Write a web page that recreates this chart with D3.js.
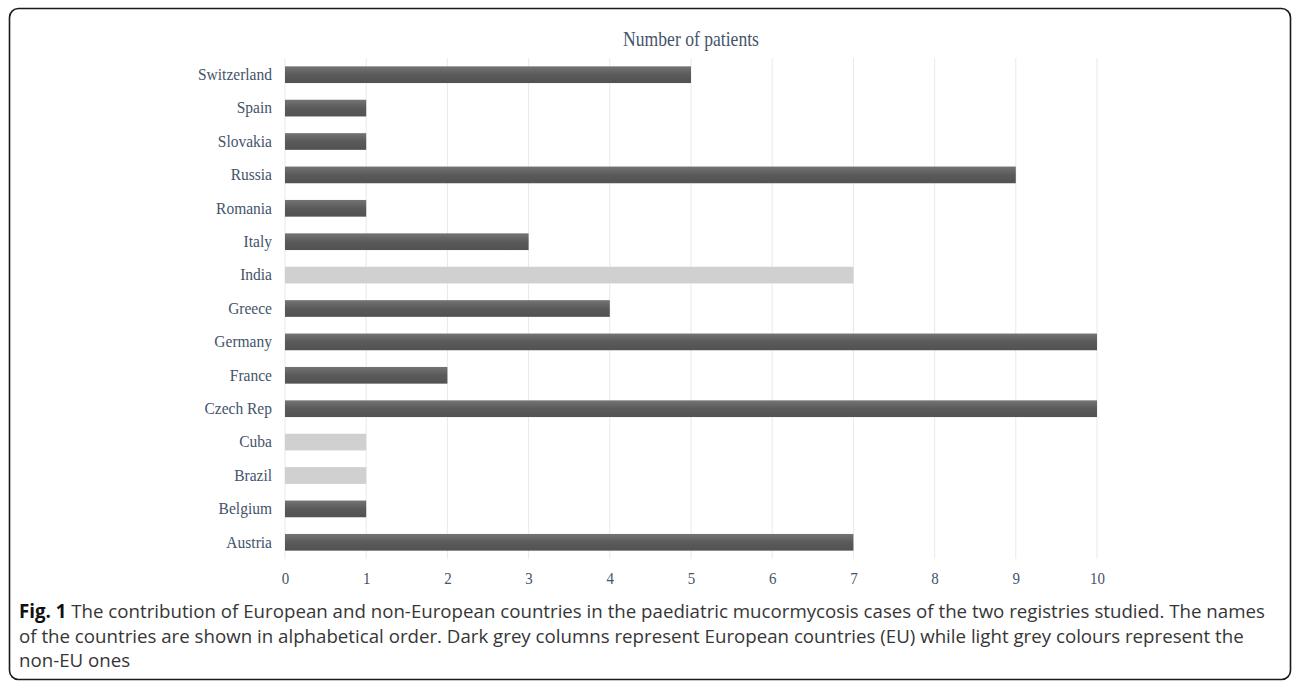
<!DOCTYPE html>
<html>
<head>
<meta charset="utf-8">
<script src="https://cdn.jsdelivr.net/npm/d3@7"></script>
<style>
  html, body { margin: 0; padding: 0; background: #fff; }
  svg { display: block; }
</style>
</head>
<body>
<script>
// data (alphabetical, drawn bottom-up)
const countries = ['Austria', 'Belgium', 'Brazil', 'Cuba', 'Czech Rep', 'France', 'Germany',
  'Greece', 'India', 'Italy', 'Romania', 'Russia', 'Slovakia', 'Spain', 'Switzerland'];
const patients = [7, 1, 1, 1, 10, 2, 10, 4, 7, 3, 1, 9, 1, 1, 5];
const region = ['EU', 'EU', 'non-EU', 'non-EU', 'EU', 'EU', 'EU', 'EU', 'non-EU', 'EU', 'EU', 'EU', 'EU', 'EU', 'EU'];
const xTicks = [0, 1, 2, 3, 4, 5, 6, 7, 8, 9, 10];
const captionLines = [
  ['Fig. 1', ' The contribution of European and non-European countries in the paediatric mucormycosis cases of the two registries studied. The names'],
  ['', 'of the countries are shown in alphabetical order. Dark grey columns represent European countries (EU) while light grey colours represent the'],
  ['', 'non-EU ones']
];

const width = 1292;
const height = 683;
const plot = { left: 285, right: 1097, top: 58, bottom: 559 };
const serif = '"Liberation Serif", "Times New Roman", serif';

const svg = d3.select('body').append('svg')
  .attr('width', width)
  .attr('height', height);

// bar shading
const grad = svg.append('defs').append('linearGradient')
  .attr('id', 'darkbar')
  .attr('x1', 0).attr('y1', 0).attr('x2', 0).attr('y2', 1);
grad.append('stop').attr('offset', '0%').attr('stop-color', '#747474');
grad.append('stop').attr('offset', '50%').attr('stop-color', '#5a5a5a');
grad.append('stop').attr('offset', '100%').attr('stop-color', '#525252');

// frame
svg.append('rect')
  .attr('x', 9.5).attr('y', 8.5)
  .attr('width', 1281).attr('height', 671)
  .attr('rx', 9)
  .attr('fill', 'none')
  .attr('stroke', '#1a1a1a')
  .attr('stroke-width', 1.6);

const x = d3.scaleLinear()
  .domain([0, 10])
  .range([plot.left, plot.right]);

const y = d3.scaleBand()
  .domain([...countries].reverse())
  .range([plot.top, plot.bottom])
  .paddingInner(0.5)
  .paddingOuter(0.25);

// vertical gridlines
svg.append('g')
  .selectAll('line')
  .data(xTicks)
  .join('line')
  .attr('x1', (d) => x(d)).attr('x2', (d) => x(d))
  .attr('y1', plot.top).attr('y2', plot.bottom)
  .attr('stroke', '#e6e9ee')
  .attr('stroke-width', 1);

// bars
svg.append('g')
  .selectAll('rect')
  .data(countries)
  .join('rect')
  .attr('x', x(0))
  .attr('y', (d) => y(d))
  .attr('width', (d, i) => x(patients[i]) - x(0))
  .attr('height', y.bandwidth())
  .attr('fill', (d, i) => (region[i] === 'EU' ? 'url(#darkbar)' : '#d0d0d0'));

// category axis (original text is a slightly narrow Times)
const yAxis = svg.append('g')
  .attr('transform', `translate(${plot.left - 13}, 0)`)
  .call(d3.axisLeft(y).tickSize(0).tickPadding(0));
yAxis.select('.domain').remove();
yAxis.selectAll('text')
  .attr('font-family', serif)
  .attr('font-size', 16.5)
  .attr('fill', '#44546a')
  .attr('transform', 'scale(0.94,1)');

// value axis
const xAxis = svg.append('g')
  .attr('transform', `translate(0, ${plot.bottom})`)
  .call(d3.axisBottom(x).tickValues(xTicks).tickSize(0).tickPadding(13).tickFormat(d3.format('d')));
xAxis.select('.domain').remove();
xAxis.selectAll('text')
  .attr('font-family', serif)
  .attr('font-size', 17)
  .attr('fill', '#44546a')
  .attr('transform', 'scale(0.88,1)');

// chart title
svg.append('g')
  .attr('transform', `translate(${(plot.left + plot.right) / 2}, 46)`)
  .append('text')
  .attr('text-anchor', 'middle')
  .attr('transform', 'scale(0.88,1)')
  .attr('font-family', serif)
  .attr('font-size', 20)
  .attr('fill', '#44546a')
  .text('Number of patients');

// caption
const caption = svg.append('g')
  .attr('font-family', '"Open Sans", "Noto Sans", sans-serif')
  .attr('font-size', 18)
  .attr('fill', '#363636');
const capText = caption.selectAll('text')
  .data(captionLines)
  .join('text')
  .attr('x', 19)
  .attr('y', (d, i) => 618 + i * 24.5);
capText.append('tspan')
  .attr('font-weight', 'bold')
  .attr('fill', '#111')
  .text((d) => d[0]);
capText.append('tspan')
  .text((d) => d[1]);

// fit caption font so the first line spans the same width as the figure
const firstLen = capText.node().getComputedTextLength();
const fs = 18 * 1246 / firstLen;
caption.attr('font-size', fs.toFixed(2));
</script>
</body>
</html>
